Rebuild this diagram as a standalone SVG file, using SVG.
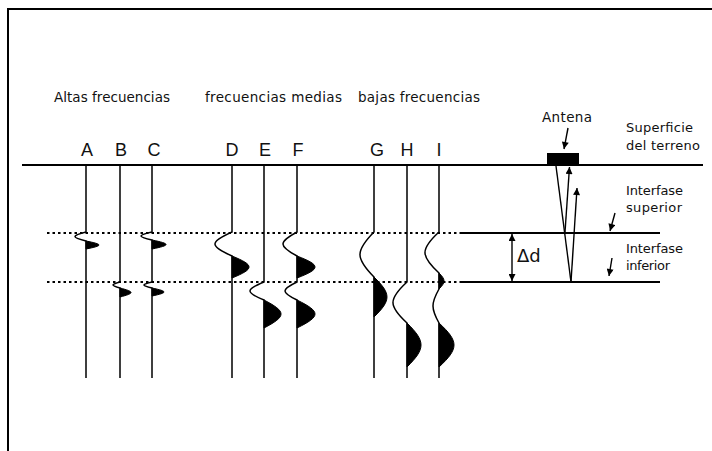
<svg xmlns="http://www.w3.org/2000/svg" width="712" height="451" viewBox="0 0 712 451">
<style>
.lbl{font-family:"DejaVu Sans","Liberation Sans",Arial,sans-serif;fill:#111}
.grp{font-size:13.5px}
.let{font-family:"Liberation Sans",Arial,sans-serif;font-size:18px;text-anchor:middle}
.side{font-size:13px}
.tr{fill:none;stroke:#000;stroke-width:1.5}
.lobe{fill:#000;stroke:#000;stroke-width:1}
.ln{stroke:#000;stroke-width:2;fill:none}
.dot{stroke:#000;stroke-width:2.2;stroke-dasharray:2.5 3;fill:none}
.ar{stroke:#000;stroke-width:1.4;fill:none}
</style>
<defs>
<marker id="ah" viewBox="0 0 10 10" refX="10" refY="5" markerWidth="9" markerHeight="7" markerUnits="userSpaceOnUse" orient="auto-start-reverse">
<path d="M0,0 L10,5 L0,10 Z" fill="#000"/>
</marker>
</defs>
<rect width="712" height="451" fill="#fff"/>
<g id="frame">
<path class="ln" d="M8 451 V9 H712"/>
</g>
<g id="layers">
<line class="ln" x1="22" y1="165" x2="703" y2="165"/>
<line class="dot" x1="47" y1="233" x2="462" y2="233"/>
<line class="ln" x1="462" y1="233" x2="660" y2="233"/>
<line class="dot" x1="47" y1="282" x2="462" y2="282"/>
<line class="ln" x1="462" y1="282" x2="660" y2="282"/>
</g>
<g id="labels">
<text class="lbl grp" x="54" y="102" textLength="116">Altas frecuencias</text>
<text class="lbl grp" x="205" y="102" textLength="137">frecuencias medias</text>
<text class="lbl grp" x="358" y="102" textLength="122">bajas frecuencias</text>
</g>
<g id="trace-A">
<text class="lbl let" x="87" y="156">A</text>
<path class="tr" d="M86 165 V232 C71.3 235.8 71.3 237.2 86 241 V378"/>
<path class="lobe" d="M86 241 C103.3 244.4 103.3 245.6 86 249 Z"/>
</g>
<g id="trace-B">
<text class="lbl let" x="121" y="156">B</text>
<path class="tr" d="M120 165 V282 C110.7 284.5 110.7 285.5 120 288 V378"/>
<path class="lobe" d="M120 288 C134.7 291.8 134.7 293.2 120 297 Z"/>
</g>
<g id="trace-C">
<text class="lbl let" x="154" y="156">C</text>
<path class="tr" d="M152 165 V232 C137.3 235.4 137.3 236.6 152 240 V282 C141.3 284.5 141.3 285.5 152 288 V378"/>
<path class="lobe" d="M152 240 C170.7 243.8 170.7 245.2 152 249 Z"/>
<path class="lobe" d="M152 288 C168 291.4 168 292.6 152 296 Z"/>
</g>
<g id="trace-D">
<text class="lbl let" x="232" y="156">D</text>
<path class="tr" d="M232 165 V232 C209.3 242 209.3 246 232 256 V378"/>
<path class="lobe" d="M232 256 C254.7 265.2 254.7 268.8 232 278 Z"/>
</g>
<g id="trace-E">
<text class="lbl let" x="265" y="156">E</text>
<path class="tr" d="M264 165 V282 C245.3 289.6 245.3 292.4 264 300 V378"/>
<path class="lobe" d="M264 300 C286.7 311.8 286.7 316.2 264 328 Z"/>
</g>
<g id="trace-F">
<text class="lbl let" x="298" y="156">F</text>
<path class="tr" d="M297 165 V232 C278.3 242 278.3 246 297 256 V282 C281 289.6 281 292.4 297 300 V378"/>
<path class="lobe" d="M297 256 C321 265.2 321 268.8 297 278 Z"/>
<path class="lobe" d="M297 300 C321 311.8 321 316.2 297 328 Z"/>
</g>
<g id="trace-G">
<text class="lbl let" x="377" y="156">G</text>
<path class="tr" d="M374 165 V232 C355.3 250.9 355.3 258.1 374 277 V378"/>
<path class="lobe" d="M374 277 C391.3 293.8 391.3 300.2 374 317 Z"/>
</g>
<g id="trace-H">
<text class="lbl let" x="407" y="156">H</text>
<path class="tr" d="M407 165 V282 C388.3 299.2 388.3 305.8 407 323 V378"/>
<path class="lobe" d="M407 323 C425.7 341.5 425.7 348.5 407 367 Z"/>
</g>
<g id="trace-I">
<text class="lbl let" x="439" y="156">I</text>
<path class="tr" d="M439 165 V232 C420.3 249.2 420.3 255.8 439 273 V289 C431 303.3 431 308.7 439 323 V378"/>
<path class="lobe" d="M439 273 C445.7 279.7 445.7 282.3 439 289 Z"/>
<path class="lobe" d="M439 323 C459 341.5 459 348.5 439 367 Z"/>
</g>
<g id="antenna">
<rect x="547" y="153" width="32" height="12" fill="#000"/>
<text class="lbl" x="542" y="122" font-size="13.5" textLength="50">Antena</text>
</g>
<g id="side-labels">
<text class="lbl side" x="626" y="132" textLength="67">Superficie</text>
<text class="lbl side" x="626" y="150" textLength="74">del terreno</text>
<text class="lbl side" x="626" y="195" textLength="57">Interfase</text>
<text class="lbl side" x="626" y="212" textLength="56">superior</text>
<text class="lbl side" x="626" y="253" textLength="57">Interfase</text>
<text class="lbl side" x="626" y="270" textLength="44">inferior</text>
<text class="lbl" x="517" y="262" font-size="18">Δd</text>
</g>
<g id="connectors">
<line class="ar" x1="568" y1="128" x2="564" y2="149" marker-end="url(#ah)"/>
<line class="ar" x1="556" y1="166" x2="571" y2="282"/>
<line class="ar" x1="565" y1="232" x2="569.5" y2="167" marker-end="url(#ah)"/>
<line class="ar" x1="571" y1="282" x2="577" y2="188" marker-end="url(#ah)"/>
<line class="ar" x1="512" y1="234" x2="512" y2="281" marker-start="url(#ah)" marker-end="url(#ah)"/>
<line class="ar" x1="615" y1="213" x2="610" y2="231" marker-end="url(#ah)"/>
<line class="ar" x1="612" y1="258" x2="609" y2="276" marker-end="url(#ah)"/>
</g>
</svg>
